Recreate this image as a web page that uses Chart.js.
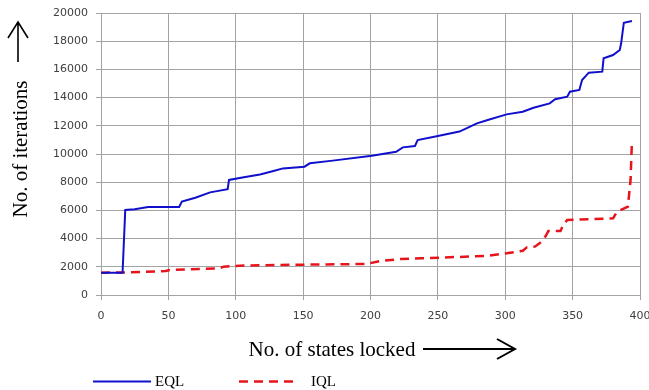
<!DOCTYPE html>
<html>
<head>
<meta charset="utf-8">
<script src="https://cdn.jsdelivr.net/npm/chart.js@4.4.1/dist/chart.umd.min.js"></script>
<style>
  html, body { margin: 0; padding: 0; background: #fff; }
  canvas { display: block; }
</style>
</head>
<body>
<canvas id="chart" width="649" height="390"></canvas>
<script>
// values (states locked, iterations)
const eqlX = [0, 16, 18, 25, 35, 58, 60, 70, 81, 94, 95, 106, 118, 128, 135, 151, 155, 172, 201, 219,
   224, 233, 235, 250, 266, 279, 287, 301, 313, 321, 333, 337, 346, 348, 355, 357, 362, 372, 373, 380,
   385, 386, 388, 394]
const eqlY = [1580, 1580, 6030, 6080, 6240, 6240, 6620, 6900, 7280, 7500, 8160, 8350, 8540, 8790, 8980,
   9100, 9340, 9530, 9880, 10160, 10470, 10570, 10990, 11280, 11590, 12170, 12410, 12810, 13000, 13280,
   13590, 13880, 14070, 14420, 14540, 15250, 15770, 15840, 16790, 17020, 17380, 17850, 19310, 19430]

const iqlX = [0, 17, 48, 51, 88, 91, 103, 148, 197, 207, 222, 237, 286, 301, 313, 316, 322, 327, 330,
   332, 341, 343, 346, 380, 383, 391, 393, 394]
const iqlY = [1580, 1600, 1700, 1770, 1890, 2010, 2080, 2150, 2200, 2410, 2550, 2600, 2770, 2960, 3140,
   3380, 3430, 3780, 4180, 4540, 4540, 4960, 5320, 5440, 5910, 6260, 8160, 10870]

const seriesNames = [ 'EQL', 'IQL' ]
const xTitle = 'No. of states locked'
const yTitle = 'No. of iterations'

const toPoints = ( xs, ys ) => xs.map( ( x, i ) => ( { x, y: ys[ i ] } ) )

const BLUE = '#1010cc'
const RED = '#e6141c'
const GRID = '#a3a3a3'
const SERIF = '"Liberation Serif", "Times New Roman", serif'
const SANS = '"DejaVu Sans", Verdana, sans-serif'

function arrow( ctx, x1, y1, x2, y2, head, spread ) {
   const a = Math.atan2( y2 - y1, x2 - x1 )
   ctx.beginPath()
   ctx.moveTo( x1, y1 )
   ctx.lineTo( x2, y2 )
   ctx.moveTo( x2 - head * Math.cos( a ) + spread * Math.sin( a ), y2 - head * Math.sin( a ) - spread * Math.cos( a ) )
   ctx.lineTo( x2, y2 )
   ctx.lineTo( x2 - head * Math.cos( a ) - spread * Math.sin( a ), y2 - head * Math.sin( a ) + spread * Math.cos( a ) )
   ctx.stroke()
}

const extras = {
   id: 'titles_and_legend',
   afterDraw( chart ) {
      const { ctx } = chart
      ctx.save()
      ctx.fillStyle = '#000'
      ctx.strokeStyle = '#000'

      // y title, rotated
      ctx.font = `21px ${SERIF}`
      ctx.save()
      ctx.translate( 27, 149 )
      ctx.rotate( -Math.PI / 2 )
      ctx.textAlign = 'center'
      ctx.textBaseline = 'alphabetic'
      ctx.fillText( yTitle, 0, 0 )
      ctx.restore()

      ctx.lineWidth = 1.6
      arrow( ctx, 18, 62, 18, 22, 16, 10 )

      // x title
      ctx.textAlign = 'center'
      ctx.textBaseline = 'alphabetic'
      ctx.fillText( xTitle, 332, 356 )
      ctx.lineWidth = 2
      arrow( ctx, 423, 349, 515, 349, 18, 10 )

      // legend
      const sets = chart.data.datasets
      const items = [ { x: 93, tx: 155 }, { x: 239, tx: 311 } ]
      ctx.font = `15px ${SERIF}`
      ctx.textAlign = 'left'
      items.forEach( ( it, i ) => {
         const ds = sets[ i ]
         ctx.save()
         ctx.strokeStyle = ds.borderColor
         ctx.lineWidth = ds.borderWidth
         ctx.setLineDash( ds.borderDash || [] )
         ctx.beginPath()
         ctx.moveTo( it.x, 381.5 )
         ctx.lineTo( it.x + 58, 381.5 )
         ctx.stroke()
         ctx.restore()
         ctx.fillText( ds.label, it.tx, 386 )
      } )

      ctx.restore()
   },
}

new Chart( document.getElementById( 'chart' ), {
   type: 'line',
   data: {
      datasets: [
         {
            label: seriesNames[ 0 ],
            data: toPoints( eqlX, eqlY ),
            borderColor: BLUE,
            borderWidth: 2,
            pointRadius: 0,
            tension: 0,
            order: 0,
         },
         {
            label: seriesNames[ 1 ],
            data: toPoints( iqlX, iqlY ),
            borderColor: RED,
            borderWidth: 2.5,
            borderDash: [ 9, 6 ],
            pointRadius: 0,
            tension: 0,
            order: 1,
         },
      ],
   },
   options: {
      responsive: false,
      animation: false,
      layout: { padding: { top: 13, right: 9, left: 0, bottom: 0 } },
      plugins: {
         legend: { display: false },
         tooltip: { enabled: false },
      },
      scales: {
         x: {
            type: 'linear',
            min: 0,
            max: 400,
            ticks: {
               stepSize: 50,
               padding: 10,
               color: '#404040',
               font: { family: SANS, size: 11 },
               callback: ( v ) => String( v ),
            },
            grid: { color: GRID, tickLength: 5 },
            border: { color: GRID },
            afterFit( scale ) {
               scale.height = 95
               scale.paddingLeft = 0
               scale.paddingRight = 0
            },
         },
         y: {
            min: 0,
            max: 20000,
            ticks: {
               stepSize: 2000,
               padding: 8,
               color: '#404040',
               font: { family: SANS, size: 11 },
               callback: ( v ) => String( v ),
            },
            grid: { color: GRID, tickLength: 5 },
            border: { color: GRID },
            afterFit( scale ) {
               scale.width = 101
               scale.paddingTop = 0
               scale.paddingBottom = 0
            },
         },
      },
   },
   plugins: [ extras ],
} )
</script>
</body>
</html>
